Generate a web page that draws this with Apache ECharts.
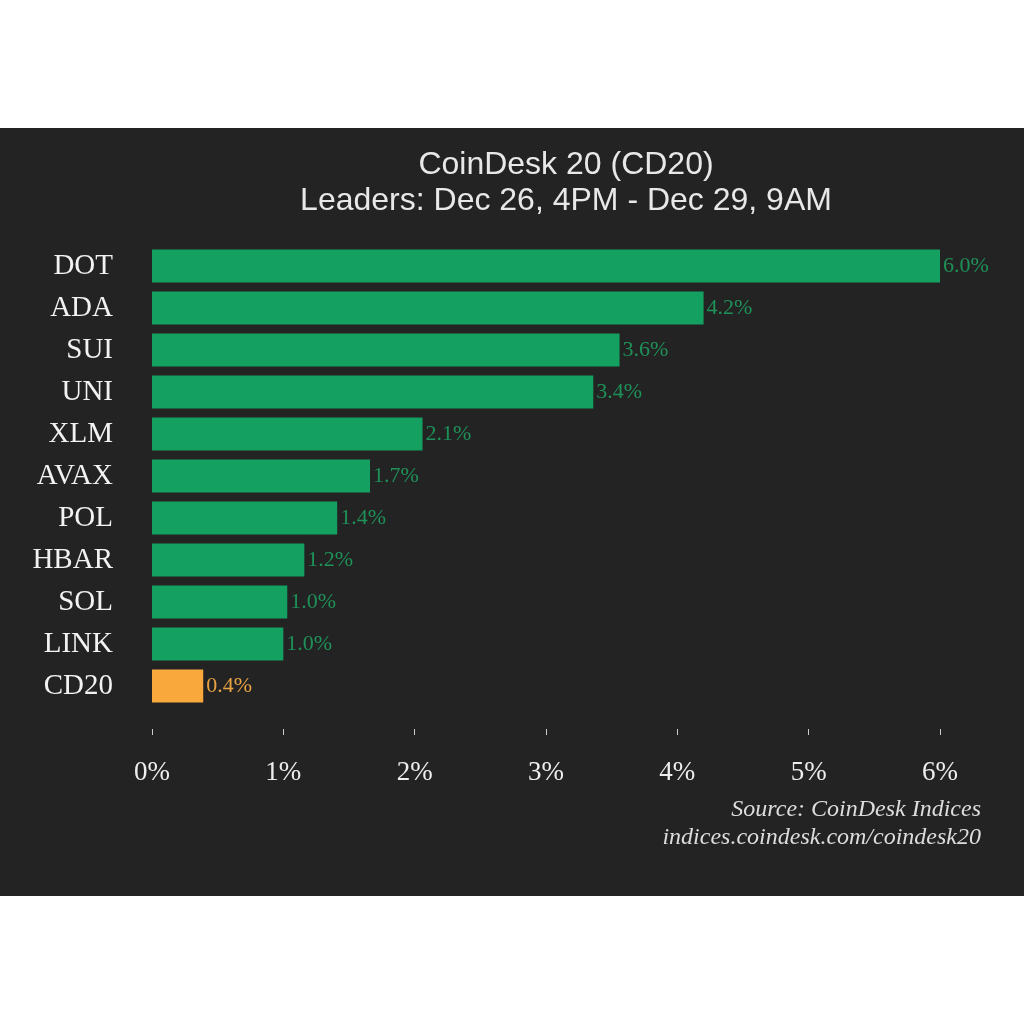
<!DOCTYPE html>
<html>
<head>
<meta charset="utf-8">
<script src="https://cdn.jsdelivr.net/npm/echarts@6/dist/echarts.min.js"></script>
<style>
  html, body { margin: 0; padding: 0; background: #ffffff; }
  #main { width: 1024px; height: 1024px; }
</style>
</head>
<body>
<div id="main"></div>
<script>
// data
var coins = ['DOT', 'ADA', 'SUI', 'UNI', 'XLM', 'AVAX', 'POL', 'HBAR', 'SOL', 'LINK', 'CD20'];
var gains = [6.0, 4.2, 3.56, 3.36, 2.06, 1.66, 1.41, 1.16, 1.03, 1.0, 0.39];
var xTicks = [0, 1, 2, 3, 4, 5, 6];

var chart = echarts.init(document.getElementById('main'));

var green = '#14a060';
var orange = '#f9a93c';
var serif = '"Liberation Serif", "DejaVu Serif", serif';

var option = {
    backgroundColor: '#ffffff',
    animation: false,
    graphic: [
        {
            type: 'rect',
            z: -10,
            shape: { x: 0, y: 128, width: 1024, height: 768 },
            style: { fill: '#232323' }
        },
        {
            type: 'text',
            style: {
                text: 'CoinDesk 20 (CD20)\nLeaders: Dec 26, 4PM - Dec 29, 9AM',
                x: 566,
                y: 147,
                align: 'center',
                verticalAlign: 'top',
                fill: '#e8e8e8',
                font: '32px "Liberation Sans", Arial, sans-serif',
                lineHeight: 36
            }
        },
        {
            type: 'text',
            style: {
                text: 'Source: CoinDesk Indices\nindices.coindesk.com/coindesk20',
                x: 981,
                y: 796,
                align: 'right',
                verticalAlign: 'top',
                fill: '#dddddd',
                font: 'italic 24px ' + serif,
                lineHeight: 28
            }
        }
    ],
    grid: {
        left: 152,
        right: 84,
        top: 245,
        bottom: 1024 - 707
    },
    xAxis: {
        type: 'value',
        min: 0,
        max: 6,
        interval: 1,
        offset: 22,
        axisLine: { show: false },
        axisTick: { show: true, length: 6, lineStyle: { color: '#cccccc', width: 1 } },
        splitLine: { show: false },
        axisLabel: {
            margin: 30,
            color: '#eeeeee',
            fontSize: 27,
            fontFamily: serif,
            formatter: function (v) { return v + '%'; }
        }
    },
    yAxis: {
        type: 'category',
        inverse: true,
        data: coins,
        axisLine: { show: false },
        axisTick: { show: false },
        axisLabel: {
            margin: 39,
            color: '#f2f2f2',
            fontSize: 29,
            fontFamily: serif
        }
    },
    series: [
        {
            type: 'bar',
            barWidth: 33,
            data: gains.map(function (v, i) {
                var isIndex = coins[i] === 'CD20';
                return {
                    value: v,
                    itemStyle: { color: isIndex ? orange : green },
                    label: { color: isIndex ? '#e8a341' : '#1e9158' }
                };
            }),
            label: {
                show: true,
                position: 'right',
                distance: 3,
                fontSize: 22,
                fontFamily: serif,
                formatter: function (p) { return p.value.toFixed(1) + '%'; }
            }
        }
    ]
};

chart.setOption(option);
</script>
</body>
</html>
